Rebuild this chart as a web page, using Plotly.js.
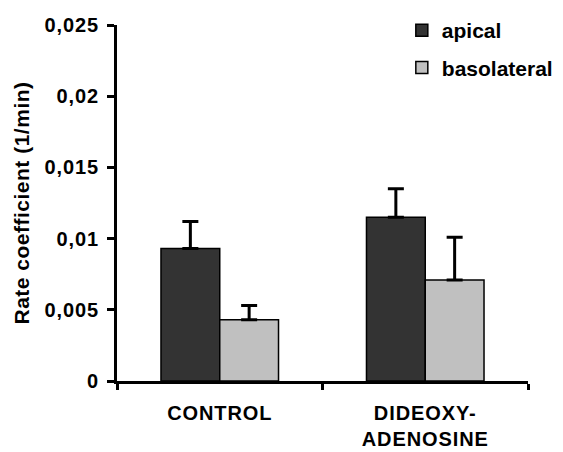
<!DOCTYPE html>
<html>
<head>
<meta charset="utf-8">
<script src="https://cdn.plot.ly/plotly-3.0.1.min.js"></script>
<style>
html,body{margin:0;padding:0;background:#fff;}
#chart{width:563px;height:452px;}
#chart .xtick text{letter-spacing:0.9px;}
#chart .ytick text{letter-spacing:0.9px;}
#chart .ytitle{letter-spacing:0.5px;}
</style>
</head>
<body>
<div id="chart"></div>
<script>
var categories = ["CONTROL", "DIDEOXY-<br>ADENOSINE"];
var apical = [0.0093, 0.0115];
var apicalErr = [0.0019, 0.0020];
var basolateral = [0.0043, 0.0071];
var basolateralErr = [0.0010, 0.0030];
var seriesNames = ["apical", "basolateral"];

var FONT = "Liberation Sans, Arial, sans-serif";

function errOpts(arr) {
  return {type: "data", symmetric: false, array: arr, arrayminus: arr.map(function(){return 0;}),
          color: "#000", thickness: 3, width: 8};
}

var traces = [
  {type: "bar", name: seriesNames[0], x: categories, y: apical, legendgroup: "a",
   marker: {color: "#333333", line: {color: "#000", width: 1.5}}, error_y: errOpts(apicalErr)},
  {type: "bar", name: seriesNames[1], x: categories, y: basolateral, legendgroup: "b",
   marker: {color: "#c0c0c0", line: {color: "#000", width: 1.5}}, error_y: errOpts(basolateralErr)}
];

var layout = {
  width: 563, height: 452,
  margin: {l: 117, r: 35, t: 25, b: 71, autoexpand: false},
  paper_bgcolor: "#fff", plot_bgcolor: "#fff",
  separators: ", ",
  font: {family: FONT, size: 20, color: "#000", weight: "bold"},
  barmode: "group", bargap: 0.428, bargroupgap: 0,
  showlegend: true,
  legend: {x: 0.693, y: 1.042, xanchor: "left", yanchor: "top",
           bgcolor: "rgba(0,0,0,0)", traceorder: "grouped", tracegroupgap: 7,
           font: {family: FONT, size: 21, color: "#000", weight: "bold"}},
  xaxis: {type: "category", showline: true, linecolor: "#000", linewidth: 3, automargin: false,
          ticks: "outside", tickson: "boundaries", ticklen: 6, tickwidth: 3, tickcolor: "#000",
          showgrid: false, zeroline: false, range: [-0.5, 1.5], ticklabelstandoff: 12,
          tickfont: {family: FONT, size: 20, weight: "bold"}},
  yaxis: {range: [0, 0.025], dtick: 0.005, tick0: 0, tickformat: ".3~f", automargin: false,
          showline: true, linecolor: "#000", linewidth: 3,
          ticks: "outside", ticklen: 7, tickwidth: 3, tickcolor: "#000",
          showgrid: false, zeroline: false, ticklabelstandoff: 4,
          tickfont: {family: FONT, size: 20, weight: "bold"},
          title: {text: "Rate coefficient (1/min)", standoff: 14,
                  font: {family: FONT, size: 21, weight: "bold"}}}
};

Plotly.newPlot("chart", traces, layout, {displayModeBar: false, staticPlot: true});
</script>
</body>
</html>
